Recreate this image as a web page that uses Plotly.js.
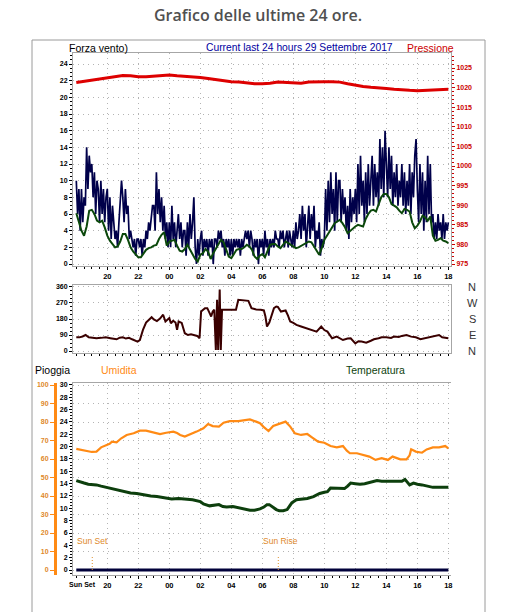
<!DOCTYPE html>
<html>
<head>
<meta charset="utf-8">
<script src="https://cdn.plot.ly/plotly-3.0.1.min.js"></script>
<style>
html,body{margin:0;padding:0;background:#fff;}
#chart{width:515px;height:612px;}
</style>
</head>
<body>
<div id="chart"></div>
<script>
// ---------- DATA ----------
// hour offsets from 18:00 of 28 Sept 2017 (0) to 18:00 of 29 Sept (24)
const tickHours = [2, 4, 6, 8, 10, 12, 14, 16, 18, 20, 22, 24];
const tickLabels = ['20', '22', '00', '02', '04', '06', '08', '10', '12', '14', '16', '18'];

// Pressure (hPa), every 30 minutes
const pressure = [
  1021.3, 1021.6, 1022.0, 1022.2, 1022.5, 1022.9, 1023.1, 1023.0, 1022.8, 1022.8,
  1022.9, 1023.1, 1023.2, 1023.0, 1022.9, 1022.7, 1022.6, 1022.3, 1022.0, 1021.7,
  1021.5, 1021.4, 1021.2, 1021.0, 1021.0, 1021.1, 1021.4, 1021.3, 1021.2, 1021.1,
  1021.4, 1021.5, 1021.5, 1021.5, 1021.4, 1021.0, 1020.6, 1020.3, 1020.1, 1020.0,
  1019.8, 1019.6, 1019.4, 1019.3, 1019.2, 1019.3, 1019.4, 1019.5, 1019.6
];

// Wind gust, every 5 minutes (one row per hour)
const windGust = [
  10, 6, 9, 4, 9, 5, 8, 7, 14, 9, 13, 11,
  12, 8, 11, 6, 10, 9, 5, 10, 6, 9, 5, 8,
  9, 4, 8, 3, 7, 5, 3, 4, 2, 5, 7, 10,
  8, 5, 9, 6, 7, 3, 4, 3, 2, 3, 1, 3,
  3, 2, 3, 1, 3, 2, 4, 3, 5, 4, 6, 7,
  7, 4, 11, 6, 9, 5, 8, 4, 7, 3, 5, 2,
  5, 2, 7, 3, 5, 2, 4, 6, 3, 5, 2, 4,
  4, 1, 5, 2, 6, 3, 5, 8, 2, 0, 3, 1,
  3, 4, 1, 3, 2, 3, 1, 3, 2, 3, 0, 3,
  3, 2, 4, 3, 4, 2, 3, 1, 3, 2, 3, 1,
  3, 1, 3, 2, 3, 2, 3, 1, 3, 2, 3, 4,
  3, 4, 2, 4, 3, 1, 3, 2, 3, 0, 3, 2,
  3, 1, 4, 2, 3, 1, 3, 2, 3, 2, 4, 3,
  3, 2, 4, 3, 4, 2, 3, 4, 2, 4, 3, 2,
  4, 2, 5, 3, 4, 6, 3, 7, 4, 6, 2, 5,
  7, 3, 6, 4, 7, 2, 4, 3, 5, 1, 3, 2,
  3, 9, 4, 10, 5, 11, 6, 9, 4, 11, 5, 10,
  10, 5, 9, 6, 8, 4, 7, 3, 9, 5, 8, 6,
  9, 5, 12, 6, 13, 7, 10, 5, 11, 6, 12, 7,
  10, 13, 7, 12, 8, 11, 7, 15, 9, 14, 8, 16,
  12, 8, 14, 9, 13, 7, 11, 8, 12, 7, 10, 8,
  12, 7, 11, 6, 10, 7, 12, 6, 11, 8, 13, 15,
  9, 5, 12, 6, 11, 4, 10, 5, 13, 6, 12, 5,
  6, 3, 5, 3, 6, 4, 5, 3, 6, 3, 5, 4,
  5
];

// Average wind, every 10 minutes (one row per hour)
const windAvg = [
  6.1, 4.9, 4.0, 3.4, 4.5, 6.4,
  6.5, 6.0, 5.2, 5.0, 5.2, 4.4,
  3.4, 2.8, 2.4, 2.0, 2.1, 2.7,
  3.6, 3.6, 2.9, 2.0, 1.5, 1.2,
  0.8, 0.8, 1.3, 1.7, 1.9, 2.0,
  2.2, 2.3, 3.0, 3.5, 3.8, 2.2,
  2.7, 2.8, 2.9, 2.2, 1.6, 1.5,
  1.8, 2.3, 1.7, 1.1, 0.6, 0.3,
  1.1, 1.3, 1.8, 1.5, 0.6, 1.3,
  1.8, 2.4, 2.9, 2.6, 1.8, 0.9,
  0.7, 1.2, 1.7, 1.8, 1.8, 2.0,
  2.3, 2.1, 1.7, 0.9, 0.6, 1.0,
  1.2, 0.8, 1.6, 2.3, 2.4, 2.4,
  2.1, 1.9, 2.3, 2.7, 2.5, 2.3,
  2.1, 1.9, 2.0, 2.2, 2.3, 2.5,
  2.7, 2.6, 2.1, 1.5, 1.1, 1.9,
  2.9, 3.4, 3.9, 4.4, 4.9, 5.1,
  5.3, 4.9, 4.4, 3.7, 4.0, 4.3,
  4.5, 4.7, 4.6, 4.5, 5.4, 6.0,
  6.4, 6.5, 6.3, 7.3, 8.0, 8.4,
  8.4, 8.0, 7.2, 7.0, 6.8, 6.4,
  6.1, 6.6, 6.5, 6.3, 5.0, 4.3,
  4.6, 5.1, 5.8, 5.6, 5.2, 5.7,
  3.4, 2.8, 2.9, 3.1, 2.8, 2.7,
  2.5
];

// Wind direction (degrees) at irregular hour offsets
const dirHours = [
  0.0, 0.2, 0.4, 0.6, 0.8, 1.0, 1.3, 1.6, 1.9, 2.2, 2.4, 2.6, 2.8, 3.0, 3.2, 3.4, 3.6, 3.8, 3.95,
  4.1, 4.3, 4.5, 4.7, 4.86, 5.0, 5.2, 5.4, 5.6, 5.75, 5.9, 6.0, 6.1, 6.25, 6.4, 6.5, 6.6, 6.8,
  7.0, 7.2, 7.4, 7.6, 7.8, 7.95, 8.05, 8.3, 8.45, 8.6, 8.7, 8.8, 8.9, 9.0, 9.08, 9.15, 9.25, 9.32,
  9.4, 9.7, 10.0, 10.3, 10.45, 10.7, 11.0, 11.1, 11.3, 11.6, 11.9, 12.1, 12.2, 12.3, 12.45, 12.6,
  12.75, 12.9, 13.0, 13.2, 13.5, 13.65, 13.8, 14.0, 14.2, 14.5, 14.8, 15.1, 15.3, 15.5, 15.8, 16.0,
  16.2, 16.5, 16.8, 17.0, 17.2, 17.5, 17.7, 18.0, 18.2, 18.4, 18.7, 19.0, 19.2, 19.5, 19.7, 20.0,
  20.3, 20.5, 20.8, 21.0, 21.3, 21.6, 21.9, 22.2, 22.5, 22.8, 23.0, 23.2, 23.4, 23.6, 23.8, 24.0
];
const dirDeg = [
  77, 77, 82, 90, 77, 75, 72, 74, 77, 72, 70, 66, 75, 77, 70, 74, 66, 60, 53,
  62, 119, 160, 180, 190, 178, 168, 182, 204, 166, 180, 185, 156, 170, 160, 119, 166, 158,
  100, 90, 94, 88, 85, 72, 222, 241, 241, 213, 194, 222, 232, 6, 288, 6, 345, 6,
  232, 232, 230, 232, 288, 285, 285, 282, 241, 234, 232, 228, 194, 138, 160, 200,
  241, 250, 248, 222, 228, 200, 166, 158, 147, 138, 128, 119, 112, 109, 138, 118,
  109, 72, 81, 72, 62, 70, 72, 43, 55, 53, 47, 58, 66, 72, 77, 77,
  74, 81, 79, 85, 90, 81, 77, 66, 72, 75, 81, 85, 90, 77, 75, 72
];
const dirTickVals = [0, 90, 180, 270, 360];
const dirCardinals = ['N', 'E', 'S', 'W', 'N'];

// Temperature (°C)
const tempHours = [
  0, 0.2, 0.5, 0.77, 1.0, 1.3, 1.6, 1.96, 2.3, 2.6, 3.0, 3.5, 3.9, 4.3, 4.8, 5.2, 5.7, 6.15, 6.6,
  7.1, 7.5, 8.0, 8.2, 8.6, 8.9, 9.2, 9.45, 9.7, 10.1, 10.5, 10.8, 11.2, 11.5, 11.85, 12.1, 12.3,
  12.45, 12.6, 12.9, 13.1, 13.35, 13.6, 13.9, 14.2, 14.5, 14.9, 15.3, 15.7, 16.0, 16.2, 16.4, 16.7,
  17.0, 17.3, 17.5, 17.7, 18.0, 18.3, 18.6, 18.95, 19.4, 19.7, 20.0, 20.4, 20.7, 21.0, 21.2, 21.4,
  21.5, 21.75, 22.0, 22.3, 22.6, 23.0, 23.5, 24.0
];
const tempVals = [
  14.5, 14.3, 14.1, 13.9, 13.9, 13.8, 13.6, 13.4, 13.2, 13.0, 12.8, 12.5, 12.4, 12.2, 12.0, 11.9, 11.7, 11.5, 11.6,
  11.5, 11.4, 11.1, 10.7, 10.4, 10.5, 10.6, 10.3, 10.2, 10.3, 10.1, 10.0, 9.7, 9.7, 9.9, 10.2, 10.6,
  10.6, 10.3, 9.8, 9.6, 9.6, 9.8, 10.9, 11.4, 11.5, 11.6, 11.9, 12.4, 12.6, 12.7, 13.3, 13.3,
  13.2, 13.2, 13.6, 14.1, 14.0, 13.9, 14.0, 14.2, 14.5, 14.4, 14.4, 14.3, 14.3, 14.4, 14.7, 14.2,
  13.8, 14.1, 13.9, 13.8, 13.6, 13.4, 13.4, 13.4
];

// Humidity (%)
const humHours = [
  0, 0.2, 0.4, 0.6, 0.77, 1.0, 1.3, 1.6, 1.96, 2.15, 2.3, 2.6, 2.9, 3.25, 3.7, 4.1, 4.5, 4.75, 5.0,
  5.4, 5.8, 6.26, 6.5, 6.7, 7.0, 7.3, 7.76, 8.2, 8.5, 8.8, 9.2, 9.5, 9.9, 10.45, 10.9, 11.2, 11.6,
  11.85, 12.06, 12.4, 12.7, 12.9, 13.1, 13.5, 13.8, 14.1, 14.5, 14.9, 15.2, 15.6, 16.0, 16.4, 16.8,
  17.2, 17.45, 17.65, 18.1, 18.5, 18.9, 19.3, 19.7, 20.1, 20.4, 20.9, 21.3, 21.5, 21.6, 21.9, 22.3,
  22.6, 23.0, 23.4, 23.8, 24.0
];
const humVals = [
  65.5, 65.2, 64.8, 64.5, 64.0, 63.8, 64.0, 66.3, 67.6, 68.2, 69.4, 69.0, 71.2, 73.0, 73.9, 75.3, 75.3, 74.8, 73.9,
  73.5, 74.2, 74.8, 74.0, 73.0, 72.1, 73.0, 74.8, 76.6, 78.9, 77.8, 77.5, 79.6, 80.5, 80.5, 81.1, 81.4, 80.2,
  79.3, 77.5, 75.1, 77.8, 78.4, 78.7, 80.2, 77.5, 73.9, 73.0, 73.5, 71.7, 69.4, 68.8, 67.0, 66.3,
  67.0, 64.5, 63.1, 63.1, 62.2, 61.3, 59.5, 60.4, 59.5, 61.3, 59.8, 59.8, 62.0, 65.2, 64.0, 63.4,
  65.2, 66.3, 66.3, 67.0, 65.8
];

// Rain (mm), hourly
const rainVals = [0, 0, 0, 0, 0, 0, 0, 0, 0, 0, 0, 0, 0, 0, 0, 0, 0, 0, 0, 0, 0, 0, 0, 0, 0];

// Sun events (hour offsets) and labels
const sunHours = [1.03, 13.03];
const sunLabels = ['Sun Set', 'Sun Rise'];

// ---------- LAYOUT HELPERS ----------
const W = 515, H = 612;
const fx = p => p / W;
const fy = p => 1 - p / H;
const XL = 73, XR = 451;
const xRange = [-0.213, 24.17];
const FONT = 'Liberation Sans, Arial, sans-serif';
const GRID = '#b4b4b4';
const FRAME = '#a6a6a6';
const ORANGE = '#ff8a14';
const tf = (c, s) => ({family: FONT, size: s || 8, color: c || '#000', weight: 'bold'});

const pressureHours = pressure.map((_, i) => i * 0.5);
const gustHours = windGust.map((_, i) => i / 12);
const avgHours = windAvg.map((_, i) => i / 6);
const rainHours = rainVals.map((_, i) => i);

const traces = [
  {x: gustHours, y: windGust, xaxis: 'x', yaxis: 'y', type: 'scatter', mode: 'lines',
   line: {color: '#00004a', width: 1.7}},
  {x: avgHours, y: windAvg, xaxis: 'x', yaxis: 'y', type: 'scatter', mode: 'lines',
   line: {color: '#0b480b', width: 2}},
  {x: pressureHours, y: pressure, xaxis: 'x', yaxis: 'y2', type: 'scatter', mode: 'lines',
   line: {color: '#dd0000', width: 3}},
  {x: dirHours, y: dirDeg, xaxis: 'x2', yaxis: 'y3', type: 'scatter', mode: 'lines',
   line: {color: '#3a0000', width: 2}},
  {x: rainHours, y: rainVals, xaxis: 'x3', yaxis: 'y4', type: 'scatter', mode: 'lines',
   line: {color: '#00003a', width: 3}},
  {x: tempHours, y: tempVals, xaxis: 'x3', yaxis: 'y4', type: 'scatter', mode: 'lines',
   line: {color: '#0d3f0d', width: 3}},
  {x: humHours, y: humVals, xaxis: 'x3', yaxis: 'y5', type: 'scatter', mode: 'lines',
   line: {color: ORANGE, width: 2.2}}
];

const xBase = {
  domain: [fx(XL), fx(XR)], range: xRange,
  tickmode: 'array', tickvals: tickHours, ticktext: tickLabels,
  ticks: 'outside', ticklen: 3, tickcolor: '#000',
  showline: true, linecolor: FRAME, mirror: true,
  showgrid: true, gridcolor: GRID, griddash: '1px,4px', gridwidth: 1,
  zeroline: false, tickfont: tf('#000', 7.5),
  minor: {tickmode: 'linear', tick0: 0, dtick: 0.5, ticklen: 2, tickcolor: '#000', ticks: 'outside', showgrid: false}
};

const layout = {
  width: W, height: H,
  margin: {l: 0, r: 0, t: 0, b: 0},
  paper_bgcolor: '#fff', plot_bgcolor: '#fff',
  showlegend: false,
  title: {text: 'Grafico delle ultime 24 ore.', x: 258 / W, xanchor: 'center', y: 1 - 15 / H, yanchor: 'middle',
          font: {family: 'Open Sans, sans-serif', size: 16, color: '#505050', weight: 600}},
  xaxis: Object.assign({}, xBase, {anchor: 'y'}),
  yaxis: {domain: [fy(266), fy(53)], range: [-0.24, 25.32], anchor: 'x',
          tickmode: 'linear', tick0: 0, dtick: 2, ticks: 'outside', ticklen: 3, tickcolor: '#000',
          showline: true, linecolor: FRAME, showgrid: true, gridcolor: GRID, griddash: '1px,4px',
          zeroline: false, tickfont: tf('#000', 7),
          minor: {tickmode: 'linear', tick0: 0, dtick: 0.5, ticklen: 2, tickcolor: '#000', ticks: 'outside', showgrid: false}},
  yaxis2: {overlaying: 'y', side: 'right', anchor: 'x', range: [974.49, 1028.83],
           tickmode: 'linear', tick0: 975, dtick: 5, ticks: 'outside', ticklen: 3, tickcolor: '#cc0000',
           showline: true, linecolor: FRAME, showgrid: false, zeroline: false, tickfont: tf('#cc0000', 7),
           minor: {tickmode: 'linear', tick0: 975, dtick: 1, ticklen: 2, tickcolor: '#cc0000', ticks: 'outside', showgrid: false}},
  xaxis2: Object.assign({}, xBase, {anchor: 'y3', showticklabels: false, ticklen: 2}),
  yaxis3: {domain: [fy(353), fy(285)], range: [-11, 371], anchor: 'x2',
           tickmode: 'array', tickvals: dirTickVals, ticks: 'outside', ticklen: 3, tickcolor: '#000',
           showline: true, linecolor: FRAME, mirror: true, showgrid: true, gridcolor: GRID, griddash: '1px,4px',
           zeroline: false, tickfont: tf('#000', 7),
           minor: {tickmode: 'linear', tick0: 0, dtick: 22.5, ticklen: 2, tickcolor: '#000', ticks: 'outside', showgrid: false}},
  xaxis3: Object.assign({}, xBase, {anchor: 'y4'}),
  yaxis4: {domain: [fy(575), fy(383)], range: [-0.81, 30.32], anchor: 'x3',
           tickmode: 'linear', tick0: 0, dtick: 2, ticks: 'outside', ticklen: 3, tickcolor: '#000',
           showline: true, linecolor: FRAME, showgrid: false, zeroline: false, tickfont: tf('#000', 7),
           minor: {tickmode: 'linear', tick0: 0, dtick: 0.5, ticklen: 2, tickcolor: '#000', ticks: 'outside', showgrid: false}},
  yaxis5: {overlaying: 'y4', anchor: 'free', position: fx(55), side: 'left', range: [-2.7, 101.08],
           tickmode: 'linear', tick0: 0, dtick: 10, ticks: 'outside', ticklen: 4, tickcolor: ORANGE,
           showline: true, linecolor: ORANGE, linewidth: 3,
           showgrid: true, gridcolor: GRID, griddash: '1px,4px', zeroline: false, tickfont: tf('#e0892a', 7)},
  yaxis6: {overlaying: 'y4', side: 'right', anchor: 'x3', range: [-1.08, 40.43],
           tickmode: 'linear', tick0: 0, dtick: 5, ticks: 'outside', ticklen: 3, tickcolor: '#666',
           showline: true, linecolor: FRAME, showgrid: false, zeroline: false, tickfont: tf('#444', 7),
           minor: {tickmode: 'linear', tick0: 0, dtick: 1, ticklen: 2, tickcolor: '#666', ticks: 'outside', showgrid: false}},
  shapes: [
    {type: 'rect', xref: 'paper', yref: 'paper', x0: fx(32), x1: fx(485), y0: fy(640), y1: fy(40),
     line: {color: '#9a9a9a', width: 1}, fillcolor: 'rgba(0,0,0,0)', layer: 'below'}
  ].concat(sunHours.map(h => ({type: 'line', xref: 'x3', yref: 'y4', x0: h, x1: h, y0: 0, y1: 2.3,
     line: {color: '#e0902a', width: 1, dash: '1px,2px'}}))),
  annotations: [
    {text: 'Forza vento)', xref: 'paper', yref: 'paper', x: fx(67), y: fy(48), xanchor: 'left', yanchor: 'middle',
     showarrow: false, font: {family: FONT, size: 10.5, color: '#000'}},
    {text: 'Current last 24 hours 29 Settembre 2017', xref: 'paper', yref: 'paper', x: fx(204), y: fy(48), xanchor: 'left', yanchor: 'middle',
     showarrow: false, font: {family: FONT, size: 10.3, color: '#0000a0'}},
    {text: 'Pressione', xref: 'paper', yref: 'paper', x: fx(405), y: fy(48), xanchor: 'left', yanchor: 'middle',
     showarrow: false, font: {family: FONT, size: 10.5, color: '#cc0000'}},
    {text: 'Pioggia', xref: 'paper', yref: 'paper', x: fx(33), y: fy(370), xanchor: 'left', yanchor: 'middle',
     showarrow: false, font: {family: FONT, size: 10.5, color: '#000'}},
    {text: 'Umidita', xref: 'paper', yref: 'paper', x: fx(99), y: fy(370), xanchor: 'left', yanchor: 'middle',
     showarrow: false, font: {family: FONT, size: 10.5, color: ORANGE}},
    {text: 'Temperatura', xref: 'paper', yref: 'paper', x: fx(375), y: fy(370), xanchor: 'center', yanchor: 'middle',
     showarrow: false, font: {family: FONT, size: 10.5, color: '#0d3f0d'}},
    {text: sunLabels[0], xref: 'x3', yref: 'paper', x: sunHours[0], y: fy(584), xanchor: 'right', xshift: 6, yanchor: 'middle',
     showarrow: false, font: tf('#000', 7)}
  ].concat(sunHours.map((h, i) => ({text: sunLabels[i], xref: 'x3', yref: 'paper', x: h, xshift: -17, y: fy(541),
     xanchor: 'left', yanchor: 'middle', showarrow: false, font: {family: FONT, size: 8.5, color: '#e0892a'}})))
   .concat(dirTickVals.map((v, i) => ({text: dirCardinals[i], xref: 'paper', yref: 'y3', x: fx(472), y: v,
     xanchor: 'center', yanchor: 'middle', showarrow: false, font: {family: FONT, size: 11, color: '#333'}})))
};

Plotly.newPlot('chart', traces, layout, {staticPlot: true, displayModeBar: false});
</script>
</body>
</html>
